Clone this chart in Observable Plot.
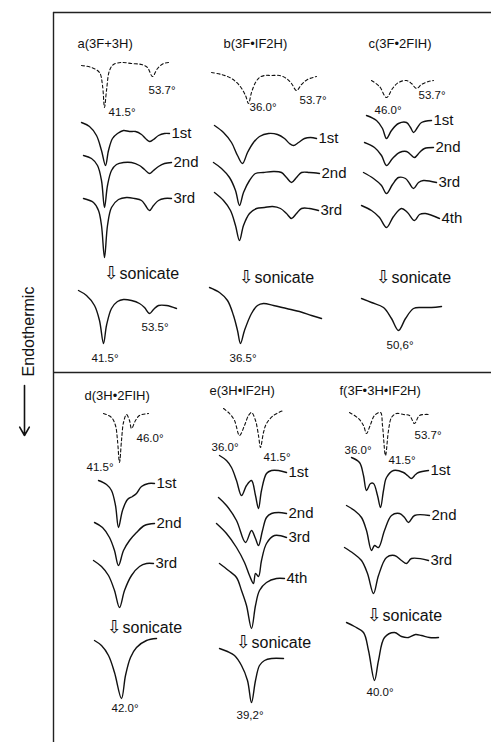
<!DOCTYPE html>
<html><head><meta charset="utf-8">
<script src="https://cdn.jsdelivr.net/npm/d3@7"></script>
<script src="https://cdn.jsdelivr.net/npm/@observablehq/plot@0.6"></script>
<style>
html,body{margin:0;padding:0;background:#fff;}
#chart svg{display:block;overflow:visible;}
</style></head><body><div id="chart"></div>
<script>
// Panels (facet keys)
const panelIds    = ["a", "b", "c", "d", "e", "f"];
const panelTitles = ["a(3F+3H)", "b(3F•IF2H)", "c(3F•2FIH)", "d(3H•2FIH)", "e(3H•IF2H)", "f(3F•3H•IF2H)"];
const panelCols   = [0, 1, 2, 0, 1, 2];
const panelRows   = [0, 0, 0, 1, 1, 1];
const titleAt     = [[24, 31], [24, 31], [23, 31], [31, 23], [10, 18], [-6, 18]];

// DSC traces, local panel units (x: temperature direction, y: downward = endothermic)
const a_ref = [[28,53],[38,55],[46,60],[49,73],[51,95],[53,78],[56,58],[60,52],[68,50],[78,51],[88,52],[94,55],[99,64],[104,56],[110,51],[115,50]];
const a_1st = [[28,110],[36,114],[43,123],[48,138],[52,153],[55,138],[59,126],[64,121],[70,118],[76,119],[82,119],[88,122],[92,126],[96,129],[100,127],[105,123],[111,121],[116,121]];
const a_2nd = [[30,143],[38,146],[44,153],[48,168],[51,195],[54,173],[58,158],[63,152],[70,150],[78,150],[86,153],[91,157],[96,161],[100,158],[105,154],[111,151],[118,150]];
const a_3rd = [[30,186],[40,190],[45,198],[48,213],[51,245],[54,213],[58,195],[65,187],[73,185],[81,186],[88,188],[92,193],[96,198],[100,193],[105,188],[111,186],[118,186]];
const a_son = [[25,278],[33,283],[41,293],[46,308],[50,331],[53,313],[58,296],[64,289],[70,287],[78,288],[86,291],[91,295],[96,301],[100,297],[105,293],[113,293],[123,296]];

const b_ref = [[12,60],[22,62],[32,66],[40,73],[46,83],[49,91],[52,80],[56,70],[60,65],[65,63],[72,63],[80,63],[87,66],[92,71],[97,78],[102,72],[108,67],[117,64]];
const b_1st = [[15,113],[24,120],[32,130],[38,143],[43,151],[48,140],[54,130],[60,124],[69,121],[78,122],[85,126],[90,131],[94,133],[99,130],[105,126],[111,125],[117,126]];
const b_2nd = [[14,150],[22,156],[30,165],[36,178],[40,193],[44,180],[50,168],[56,161],[64,160],[74,159],[82,160],[87,165],[92,170],[97,165],[102,160],[110,160],[120,161]];
const b_3rd = [[15,180],[24,188],[31,198],[36,213],[40,228],[44,213],[50,201],[57,196],[65,195],[73,194],[81,196],[87,201],[92,206],[97,201],[102,196],[110,196],[119,198]];
const b_son = [[10,275],[20,280],[28,288],[34,303],[38,318],[41,331],[45,318],[52,301],[58,293],[64,291],[74,293],[87,296],[100,299],[112,303],[122,306]];

const c_ref = [[26,68],[34,74],[41,85],[47,76],[53,70],[61,68],[66,71],[71,76],[76,72],[83,69],[88,68]];
const c_1st = [[21,103],[31,108],[37,116],[41,126],[46,118],[53,111],[61,110],[65,115],[68,120],[72,115],[76,110],[86,108]];
const c_2nd = [[19,130],[29,135],[36,143],[41,153],[47,146],[54,140],[61,139],[65,142],[69,145],[74,140],[79,136],[88,135]];
const c_3rd = [[18,160],[28,166],[36,173],[41,181],[47,172],[53,165],[60,166],[64,171],[68,176],[73,170],[78,168],[91,170]];
const c_4th = [[16,193],[26,198],[34,205],[41,215],[48,204],[56,196],[62,200],[69,208],[74,202],[80,201],[94,206]];
const c_son = [[16,286],[26,290],[38,295],[46,306],[53,318],[60,306],[68,296],[76,295],[86,295],[96,294]];

const d_ref = [[50,41],[58,45],[62,53],[64,68],[66,90],[68,68],[70,50],[73,42],[76,48],[78,56],[82,48],[86,43],[95,41]];
const d_1st = [[45,108],[53,112],[58,118],[62,133],[65,155],[69,138],[74,127],[79,124],[83,121],[88,114],[95,111],[101,111]];
const d_2nd = [[41,150],[49,155],[56,165],[61,178],[65,193],[70,178],[76,168],[83,160],[91,153],[101,151]];
const d_3rd = [[40,188],[48,194],[55,203],[61,218],[66,235],[71,218],[78,203],[86,194],[93,191],[100,191]];
const d_son = [[41,268],[48,273],[55,283],[61,300],[68,326],[72,303],[77,285],[83,275],[93,268],[103,266]];

const e_ref = [[24,36],[30,41],[35,48],[40,63],[45,53],[49,43],[52,40],[56,48],[59,63],[61,75],[64,60],[67,51],[74,43],[84,38]];
const e_1st = [[20,83],[27,88],[32,95],[37,108],[42,123],[47,113],[52,108],[56,123],[59,136],[62,118],[67,101],[72,98],[79,98],[87,100]];
const e_2nd = [[19,125],[27,133],[37,148],[46,170],[52,158],[56,166],[59,173],[63,158],[67,145],[72,141],[79,140],[87,141]];
const e_3rd = [[17,151],[27,161],[37,175],[45,190],[50,203],[54,211],[56,201],[59,204],[62,188],[67,171],[75,163],[87,165]];
const e_4th = [[20,191],[29,198],[37,205],[42,218],[47,233],[52,256],[56,233],[60,218],[67,210],[77,206],[85,206]];
const e_son = [[20,276],[28,279],[35,283],[42,293],[48,308],[52,330],[56,308],[60,293],[65,288],[72,286],[84,286]];

const f_ref = [[4,40],[13,46],[18,53],[21,61],[25,52],[29,43],[35,40],[37,53],[40,83],[43,58],[46,45],[51,41],[58,42],[64,43],[69,51],[74,43],[84,42]];
const f_1st = [[6,85],[14,90],[18,103],[21,118],[25,111],[28,111],[32,123],[35,135],[38,118],[41,105],[48,98],[58,100],[62,103],[66,106],[70,102],[73,100],[83,98]];
const f_2nd = [[1,133],[9,138],[16,145],[21,158],[26,178],[29,173],[33,175],[39,158],[46,143],[54,141],[59,145],[63,150],[69,143],[84,143]];
const f_3rd = [[-1,175],[8,181],[16,188],[22,201],[28,221],[33,203],[41,185],[49,183],[56,188],[61,191],[66,186],[83,188]];
const f_son = [[1,250],[9,254],[18,260],[23,278],[29,308],[33,288],[39,265],[49,260],[56,264],[63,265],[70,262],[76,263],[84,265],[93,265]];

const traceList = [
  ["a","ref",a_ref],["a","1st",a_1st],["a","2nd",a_2nd],["a","3rd",a_3rd],["a","son",a_son],
  ["b","ref",b_ref],["b","1st",b_1st],["b","2nd",b_2nd],["b","3rd",b_3rd],["b","son",b_son],
  ["c","ref",c_ref],["c","1st",c_1st],["c","2nd",c_2nd],["c","3rd",c_3rd],["c","4th",c_4th],["c","son",c_son],
  ["d","ref",d_ref],["d","1st",d_1st],["d","2nd",d_2nd],["d","3rd",d_3rd],["d","son",d_son],
  ["e","ref",e_ref],["e","1st",e_1st],["e","2nd",e_2nd],["e","3rd",e_3rd],["e","4th",e_4th],["e","son",e_son],
  ["f","ref",f_ref],["f","1st",f_1st],["f","2nd",f_2nd],["f","3rd",f_3rd],["f","son",f_son]
];

// Peak temperature labels
const peakText  = ["41.5°","53.7°","53.5°","41.5°", "36.0°","53.7°","36.5°", "46.0°","53.7°","50,6°", "46.0°","41.5°","42.0°", "36.0°","41.5°","39,2°", "53.7°","36.0°","41.5°","40.0°"];
const peakPanel = ["a","a","a","a", "b","b","b", "c","c","c", "d","d","d", "e","e","e", "f","f","f","f"];
const peakAt    = [[55,100],[95,78],[88,315],[38,346], [50,95],[100,88],[30,346], [29,98],[73,83],[41,333], [83,66],[33,95],[58,336], [12,75],[64,85],[37,343], [69,63],[-1,78],[43,88],[21,320]];

// "sonicate" step markers
const sonicateAt = [[58,261],[47,265],[38,265],[61,255],[44,270],[29,243]];

// ---- build tables ----
const colOf = Object.fromEntries(panelIds.map((p, i) => [p, panelCols[i]]));
const rowOf = Object.fromEntries(panelIds.map((p, i) => [p, panelRows[i]]));
const pts = traceList.flatMap(([p, run, arr]) => arr.map(([x, y]) => ({id: p + run, run, x, y, col: colOf[p], row: rowOf[p]})));
const refPts = pts.filter(d => d.run === "ref");
const runPts = pts.filter(d => d.run !== "ref");
const runLabels = traceList.filter(t => !["ref","son"].includes(t[1])).map(([p, run, arr]) => {
  const last = arr[arr.length - 1];
  return {text: run, x: last[0], y: last[1], col: colOf[p], row: rowOf[p]};
});
const titles = panelIds.map((p, i) => ({text: panelTitles[i], x: titleAt[i][0], y: titleAt[i][1], col: panelCols[i], row: panelRows[i]}));
const peaks = peakText.map((t, i) => ({text: t, x: peakAt[i][0], y: peakAt[i][1], col: colOf[peakPanel[i]], row: rowOf[peakPanel[i]]}));
const sonic = panelIds.map((p, i) => ({x: sonicateAt[i][0], y: sonicateAt[i][1], col: panelCols[i], row: panelRows[i]}));
const topRules = [0,1,2].flatMap(c => [{col: c, row: 0}, {col: c, row: 1}]);
const leftRules = [{col: 0, row: 0, y1: 0, y2: 360}, {col: 0, row: 1, y1: 0, y2: 370}];
const axisNote = [{col: 0, row: 0, text: "Endothermic", x: -25, y: 319}];
const axisArrow = [{col: 0, row: 1, x: -29, y1: 13, y2: 63}];

const font = "'Liberation Sans', Arial, sans-serif";
const plot = Plot.plot({
  width: 491, height: 742,
  marginLeft: 52, marginRight: 0, marginTop: 12, marginBottom: 10,
  style: {fontFamily: font, background: "#fff", color: "#111", overflow: "visible"},
  fx: {domain: [0, 1, 2], axis: null, padding: 0},
  fy: {domain: [0, 1], axis: null, padding: 0},
  x: {domain: [0, 146], axis: null},
  y: {domain: [0, 360], reverse: true, axis: null},
  marks: [
    Plot.ruleY(topRules, {y: () => 0, fx: "col", fy: "row", stroke: "#222", strokeWidth: 1.5}),
    Plot.ruleX(leftRules, {x: () => 0, y1: "y1", y2: "y2", fx: "col", fy: "row", stroke: "#222", strokeWidth: 1.4}),
    Plot.line(refPts, {x: "x", y: "y", z: "id", fx: "col", fy: "row", curve: "catmull-rom", stroke: "#111", strokeWidth: 1.1, strokeDasharray: "3,2.5"}),
    Plot.line(runPts, {x: "x", y: "y", z: "id", fx: "col", fy: "row", curve: "catmull-rom", stroke: "#111", strokeWidth: 1.4}),
    Plot.text(titles, {x: "x", y: "y", text: "text", fx: "col", fy: "row", textAnchor: "start", fontSize: 13, fill: "#111", ariaLabel: "panel-title"}),
    Plot.text(runLabels, {x: "x", y: "y", text: "text", fx: "col", fy: "row", textAnchor: "start", dx: 2, fontSize: 15, fill: "#111"}),
    Plot.text(peaks, {x: "x", y: "y", text: "text", fx: "col", fy: "row", textAnchor: "start", fontSize: 11.5, fill: "#111"}),
    Plot.text(sonic, {x: "x", y: "y", text: () => "⇩", fx: "col", fy: "row", textAnchor: "middle", fontSize: 18, fill: "#111", fontFamily: "DejaVu Sans"}),
    Plot.text(sonic, {x: "x", y: "y", text: () => "sonicate", fx: "col", fy: "row", textAnchor: "start", dx: 8, fontSize: 16, fill: "#111"}),
    Plot.text(axisNote, {x: "x", y: "y", text: "text", fx: "col", fy: "row", rotate: -90, fontSize: 16, fill: "#111"}),
    Plot.arrow(axisArrow, {x: "x", y1: "y1", y2: "y2", fx: "col", fy: "row", stroke: "#111", strokeWidth: 1.6, headLength: 9})
  ]
});
d3.select(plot).selectAll('g[aria-label="panel-title"]').attr("letter-spacing", "1.5px");
document.getElementById("chart").appendChild(plot);
</script></body></html>
